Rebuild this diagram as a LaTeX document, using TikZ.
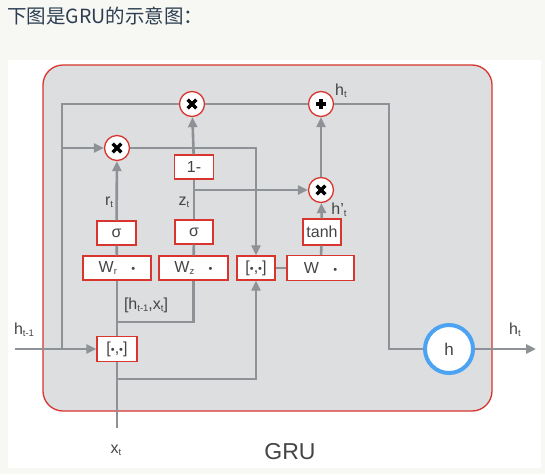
\documentclass[tikz,border=0pt]{standalone}
\usepackage{fontspec}
\setmainfont{Liberation Sans}
\newfontfamily\cjk{Noto Sans CJK SC}
\usepackage{tikz}
\usetikzlibrary{arrows.meta,calc}
\definecolor{gatered}{HTML}{D8352F}
\definecolor{cellgray}{HTML}{DDDEE0}
\definecolor{wiregray}{HTML}{8E9196}
\definecolor{hblue}{HTML}{4CA3F2}
\definecolor{labelgray}{HTML}{444444}
\definecolor{pagebg}{HTML}{F7F8F4}
\definecolor{titleink}{HTML}{2C3E50}
\newcommand{\gdot}{{\fontsize{11}{11}\selectfont •}}
\newcommand{\tsub}[1]{\raisebox{-0.25ex}{\fontsize{9.5}{9.5}\selectfont #1}}
\tikzset{
	wire/.style={draw=wiregray, line width=2.6pt},
	flow/.style={wire, -{Triangle[length=10pt,width=9pt]}},
	gate/.style={draw=gatered, fill=white, line width=1.2pt, inner sep=0pt, minimum height=24pt,
		font=\fontsize{16}{16}\selectfont, text=labelgray},
	op/.style={circle, draw=gatered, fill=white, line width=1.3pt, minimum size=25pt, inner sep=0pt},
	times/.style={op, path picture={
		\draw[black, line width=3.5pt] (path picture bounding box.center) ++(-4.3,-4.3) -- ++(8.6,8.6)
			(path picture bounding box.center) ++(-4.3,4.3) -- ++(8.6,-8.6);}},
	plus/.style={op, path picture={
		\draw[black, line width=3.5pt] (path picture bounding box.center) ++(-5,0) -- ++(10,0)
			(path picture bounding box.center) ++(0,-5) -- ++(0,10);}},
	lbl/.style={text=labelgray, font=\fontsize{16}{16}\selectfont, inner sep=0pt},
}
\begin{document}
\begin{tikzpicture}[x=1pt, y=-1pt]
		% page and cell
		\fill[pagebg] (0,0) rectangle (545,474);
		\fill[white] (8,60) rectangle (541,468);
		\useasboundingbox (0,0) rectangle (545,474);
		\node[anchor=west, inner sep=0pt, text=titleink, font=\cjk\fontsize{19.5}{19.5}\selectfont] (Title) at (7,16) {下图是GRU的示意图：};
		\draw[gatered, fill=cellgray, line width=1.3pt, rounded corners=20pt] (43,65) rectangle (492,411);
		\node[lbl, font=\fontsize{23}{23}\selectfont] (Cell) at (290,452) {GRU};

		% gates
		\node[gate, minimum width=40pt, minimum height=25pt] (CatX) at (117,349) {[\gdot,\gdot]};
		\node[gate, minimum width=68pt] (Wr) at (117,268) {W\tsub{r}\hspace{0.9em}\gdot};
		\node[gate, minimum width=39pt] (SigR) at (116.5,233) {σ};
		\node[gate, minimum width=69pt] (Wz) at (193.5,268) {W\tsub{z}\hspace{0.9em}\gdot};
		\node[gate, minimum width=38pt] (SigZ) at (194,232) {σ};
		\node[gate, minimum width=39pt] (OneMinus) at (194,167) {1-};
		\node[gate, minimum width=38pt] (CatH) at (256,268) {[\gdot,\gdot]};
		\node[gate, minimum width=67pt, minimum height=25pt] (Wh) at (320.5,268) {W\hspace{0.9em}\gdot};
		\node[gate, minimum width=38pt, minimum height=26pt] (Tanh) at (322,232) {tanh};
		\node[times] (M1) at (192,104) {};
		\node[times] (M2) at (117,148) {};
		\node[times] (M3) at (321,190) {};
		\node[plus] (P) at (321,104) {};
		\node[circle, draw=hblue, fill=white, line width=4pt, minimum size=48pt, inner sep=0pt,
			text=labelgray, font=\fontsize{17}{17}\selectfont] (H) at (449,349) {h};

		% ends and bends
		\coordinate (HIn) at (15,349);
		\coordinate (HJ) at (62,349);
		\coordinate (XIn) at (117,428);
		\coordinate (XJ) at (117,379);
		\coordinate (CJ) at (117,322);
		\coordinate (Turn) at (389,349);
		\coordinate (HOut) at (536,349);

		% wires
		\draw[flow] (HIn) -- (CatX);
		\draw[wire] (HJ) |- (M1);
		\draw[flow] (HJ |- M2) -- (M2);
		\draw[flow] (M2) -| (CatH);
		\draw[wire] (XIn) -- (CatX);
		\draw[flow] (XJ) -| (CatH);
		\path (CatX) edge[wire] (Wr)
			(Wr) edge[wire] (SigR)
			(SigR) edge[flow] (M2)
			(CJ) edge[wire, to path={-| (\tikztotarget)}] (Wz)
			(Wz) edge[wire] (SigZ)
			(SigZ) edge[wire] (OneMinus)
			(OneMinus) edge[flow] (M1)
			(OneMinus |- M3) edge[flow] (M3)
			(M1) edge[wire] (P)
			(CatH) edge[wire] (Wh)
			(Wh) edge[wire] (Tanh)
			(Tanh) edge[flow] (M3)
			(M3) edge[flow] (P);
		\draw[wire] (P) -| (Turn) -- (H);
		\draw[flow] (H) -- (HOut);

		% labels
		\node[lbl] (LRt) at (109,202) {r\tsub{t}};
		\node[lbl] (LZt) at (184,202) {z\tsub{t}};
		\node[lbl] (LHp) at (339,210) {h'\tsub{t}};
		\node[lbl] (LHt) at (341,91) {h\tsub{t}};
		\node[lbl] (LCat) at (146,305) {[h\tsub{t-1},x\tsub{t}]};
		\node[lbl] (LHin) at (24,330) {h\tsub{t-1}};
		\node[lbl] (LXt) at (116,450) {x\tsub{t}};
		\node[lbl] (LHout) at (515,330) {h\tsub{t}};
	\end{tikzpicture}
\end{document}
